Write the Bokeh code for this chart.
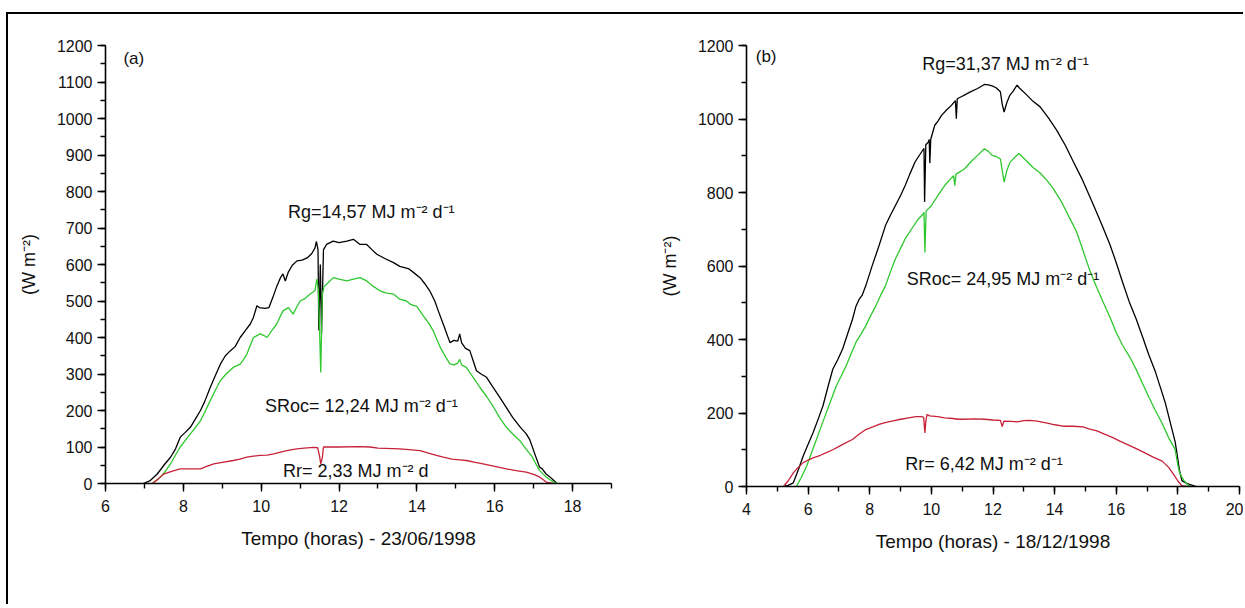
from bokeh.plotting import figure
from bokeh.models import SingleIntervalTicker, Label, Range1d
from bokeh.layouts import row
from bokeh.embed import file_html
from bokeh.resources import INLINE

FONT = "Liberation Sans"

# ---------------- Panel (a) : 23/06/1998 ----------------
a_rg_h = [6.97, 7.15, 7.33, 7.5, 7.67, 7.8, 7.92, 8.05, 8.18, 8.3, 8.44, 8.55, 8.69, 8.82, 8.95, 9.08, 9.21, 9.33,
          9.46, 9.6, 9.72, 9.8, 9.89, 9.95, 10.1, 10.2, 10.3, 10.4, 10.5, 10.56, 10.62, 10.7, 10.8, 10.92, 11.05,
          11.18, 11.3, 11.38, 11.42, 11.46, 11.48, 11.52, 11.55, 11.6, 11.68, 11.85, 12.0, 12.2, 12.37, 12.54,
          12.71, 12.85, 12.97, 13.2, 13.4, 13.56, 13.8, 13.95, 14.08, 14.2, 14.33, 14.46, 14.55, 14.7, 14.85,
          14.95, 15.05, 15.1, 15.15, 15.25, 15.36, 15.45, 15.53, 15.65, 15.79, 15.95, 16.13, 16.3, 16.46, 16.65,
          16.81, 16.9, 16.97, 17.05, 17.15, 17.22, 17.32, 17.45, 17.6]
a_rg_v = [0, 8, 26, 50, 72, 95, 127, 140, 154, 175, 200, 225, 263, 295, 327, 350, 364, 375,
          400, 420, 437, 455, 487, 482, 480, 482, 510, 540, 565, 574, 555, 580, 598, 610, 612,
          618, 630, 645, 663, 640, 420, 600, 410, 640, 655, 664, 660, 664, 669, 655,
          655, 640, 628, 615, 605, 595, 588, 575, 564, 548, 528, 500, 473, 430, 386,
          392, 390, 410, 385, 370, 364, 335, 309, 300, 291, 265, 236, 208, 181, 155,
          136, 120, 99, 75, 45, 40, 26, 15, 0]

a_sr_h = [7.2, 7.3, 7.41, 7.55, 7.67, 7.8, 7.92, 8.05, 8.18, 8.3, 8.44, 8.55, 8.69, 8.82, 8.95, 9.1, 9.28, 9.46,
          9.55, 9.63, 9.72, 9.8, 9.97, 10.08, 10.15, 10.28, 10.4, 10.5, 10.56, 10.7, 10.82, 10.92, 11.0, 11.1,
          11.26, 11.38, 11.43, 11.47, 11.53, 11.57, 11.62, 11.68, 11.85, 12.0, 12.2, 12.37, 12.54, 12.71, 12.88,
          13.05, 13.2, 13.4, 13.56, 13.73, 13.85, 14.0, 14.16, 14.3, 14.42, 14.6, 14.75, 14.85, 14.95, 15.05,
          15.1, 15.15, 15.27, 15.45, 15.62, 15.8, 15.97, 16.13, 16.3, 16.47, 16.64, 16.8, 16.97, 17.05, 17.15,
          17.25, 17.32, 17.45, 17.6]
a_sr_v = [0, 8, 17, 35, 54, 78, 100, 118, 136, 152, 172, 195, 227, 255, 282, 300, 318, 327,
          340, 354, 378, 400, 410, 405, 400, 420, 437, 460, 473, 482, 464, 485, 500, 505,
          519, 528, 560, 530, 304, 520, 540, 546, 564, 560, 555, 560, 564, 555, 540,
          528, 522, 519, 505, 500, 490, 485, 460, 440, 418, 373, 345, 328, 325, 330,
          340, 325, 318, 290, 263, 237, 209, 180, 154, 135, 118, 95, 72, 55, 36,
          25, 18, 8, 0]

a_rr_h = [7.2, 7.35, 7.49, 7.7, 7.92, 8.2, 8.44, 8.6, 8.78, 9.0, 9.28, 9.45, 9.63, 9.8, 9.97, 10.15, 10.32, 10.5,
          10.66, 10.8, 10.92, 11.1, 11.35, 11.45, 11.5, 11.53, 11.57, 11.6, 11.68, 12.0, 12.5, 12.8, 13.0, 13.56,
          13.8, 14.08, 14.3, 14.5, 14.68, 14.9, 15.1, 15.27, 15.5, 15.7, 16.0, 16.3, 16.55, 16.81, 17.0, 17.15,
          17.25, 17.32, 17.5]
a_rr_v = [0, 12, 26, 33, 40, 40, 40, 47, 54, 58, 63, 67, 72, 75, 77, 78, 81, 86,
          90, 93, 95, 97, 99, 98, 75, 54, 70, 100, 100, 100, 101, 100, 97, 95,
          93, 90, 83, 77, 72, 67, 65, 63, 58, 54, 47, 40, 35, 31, 25, 18,
          10, 4, 0]

# ---------------- Panel (b) : 18/12/1998 ----------------
b_rg_h = [5.2, 5.35, 5.52, 5.68, 5.84, 6.0, 6.16, 6.32, 6.48, 6.64, 6.8, 6.96, 7.12, 7.28, 7.44, 7.55, 7.66, 7.75,
          7.87, 8.08, 8.3, 8.51, 8.67, 8.83, 9.0, 9.15, 9.3, 9.47, 9.6, 9.72, 9.76, 9.78, 9.82, 9.9, 9.93, 9.95,
          9.98, 10.11, 10.22, 10.33, 10.5, 10.65, 10.78, 10.81, 10.84, 11.0, 11.07, 11.25, 11.5, 11.72, 11.85,
          11.97, 12.1, 12.24, 12.3, 12.36, 12.45, 12.55, 12.65, 12.78, 12.85, 13.1, 13.3, 13.53, 13.8, 14.07,
          14.35, 14.6, 14.9, 15.14, 15.35, 15.57, 15.8, 16.0, 16.2, 16.42, 16.65, 16.85, 17.05, 17.27, 17.45,
          17.59, 17.75, 17.91, 17.97, 18.05, 18.13, 18.3, 18.45, 18.6]
b_rg_v = [0, 3, 10, 45, 83, 115, 146, 182, 219, 270, 319, 345, 374, 415, 455, 490, 510, 520,
          546, 601, 655, 710, 738, 764, 792, 819, 850, 883, 900, 915, 920, 774, 930, 937, 944, 880,
          945, 983, 995, 1010, 1025, 1037, 1050, 1001, 1055, 1062, 1065, 1073, 1083, 1094, 1093,
          1090, 1085, 1074, 1040, 1019, 1045, 1065, 1075, 1092, 1085, 1065, 1048, 1033, 1003, 969,
          928, 885, 835, 789, 748, 705, 657, 609, 557, 503, 455, 408, 360, 312, 265,
          228, 175, 122, 90, 45, 16, 8, 4, 0]

b_sr_h = [5.62, 5.78, 5.95, 6.11, 6.27, 6.43, 6.59, 6.75, 6.91, 7.07, 7.23, 7.39, 7.55, 7.71, 7.87, 8.03, 8.19,
          8.35, 8.51, 8.67, 8.83, 9.0, 9.15, 9.35, 9.58, 9.72, 9.76, 9.79, 9.83, 10.0, 10.2, 10.43, 10.6, 10.72,
          10.76, 10.8, 11.07, 11.3, 11.5, 11.72, 11.85, 11.97, 12.1, 12.24, 12.3, 12.36, 12.45, 12.55, 12.7,
          12.84, 13.1, 13.3, 13.53, 13.75, 13.96, 14.2, 14.39, 14.55, 14.71, 14.93, 15.14, 15.35, 15.57, 15.8,
          16.0, 16.2, 16.42, 16.65, 16.85, 17.05, 17.27, 17.5, 17.7, 17.91, 18.0, 18.05, 18.1, 18.2, 18.3, 18.4]
b_sr_v = [0, 25, 55, 92, 128, 165, 201, 237, 273, 300, 328, 360, 392, 414, 437, 465, 490,
          520, 546, 584, 619, 648, 674, 700, 728, 740, 746, 637, 750, 764, 790, 819, 835, 846,
          819, 850, 864, 885, 901, 919, 912, 901, 898, 891, 860, 828, 860, 882, 895,
          906, 885, 868, 853, 833, 810, 778, 747, 720, 694, 640, 588, 545, 503, 460,
          419, 385, 355, 318, 281, 245, 207, 170, 133, 101, 58, 40, 30, 16, 6, 0]

b_rr_h = [5.2, 5.35, 5.52, 5.68, 5.84, 6.0, 6.16, 6.4, 6.59, 6.8, 7.02, 7.2, 7.44, 7.65, 7.87, 8.1, 8.3, 8.5,
          8.72, 9.0, 9.26, 9.5, 9.68, 9.75, 9.79, 9.82, 9.86, 9.95, 10.2, 10.43, 10.7, 10.86, 11.07, 11.4, 11.72,
          12.0, 12.24, 12.3, 12.35, 12.6, 12.78, 13.0, 13.2, 13.43, 13.8, 14.0, 14.28, 14.6, 14.92, 15.14,
          15.35, 15.6, 15.89, 16.15, 16.42, 16.7, 16.96, 17.2, 17.49, 17.7, 17.91, 18.0, 18.13, 18.3]
b_rr_v = [0, 15, 37, 52, 65, 72, 78, 85, 92, 100, 110, 118, 128, 142, 155, 162, 169, 174,
          178, 183, 187, 190, 190, 188, 146, 178, 196, 192, 190, 187, 185, 183, 183, 184, 183,
          181, 180, 163, 178, 177, 176, 179, 180, 178, 172, 168, 164, 164, 162, 156,
          152, 143, 133, 122, 112, 101, 90, 80, 69, 52, 27, 15, 2, 0]

BLACK = "#000000"
GREEN = "#2ec82e"
RED = "#c8213a"
Y_TITLE = "(W m\u207b\u00b2)"


def make_panel(width, height, left, right, top, bottom, fw, fh, xr, yr, yint, title):
    p = figure(width=width, height=height, frame_width=fw, frame_height=fh,
               x_range=Range1d(*xr), y_range=Range1d(*yr),
               output_backend="svg", toolbar_location=None,
               min_border_left=left, min_border_right=right,
               min_border_top=top, min_border_bottom=bottom)
    p.outline_line_color = None
    p.xgrid.visible = False
    p.ygrid.visible = False
    p.background_fill_color = "white"
    p.border_fill_color = "white"
    p.xaxis.ticker = SingleIntervalTicker(interval=2, num_minor_ticks=2)
    p.yaxis.ticker = SingleIntervalTicker(interval=yint, num_minor_ticks=2)
    for ax in (p.xaxis[0], p.yaxis[0]):
        ax.axis_line_width = 1.6
        ax.major_tick_line_width = 1.4
        ax.minor_tick_line_width = 1.4
        ax.major_tick_in = 0
        ax.major_tick_out = 8
        ax.minor_tick_in = 0
        ax.minor_tick_out = 5
        ax.major_label_text_font = FONT
        ax.major_label_text_font_size = "16px"
        ax.major_label_text_color = "#111111"
        ax.axis_label_text_font = FONT
        ax.axis_label_text_font_size = "19px"
        ax.axis_label_text_font_style = "normal"
        ax.axis_label_text_color = "#111111"
    p.yaxis.axis_label_text_font_size = "18px"
    p.xaxis.major_label_standoff = 8
    p.yaxis.major_label_standoff = 5
    p.xaxis.axis_label_standoff = 13
    p.yaxis.axis_label_standoff = 15
    p.xaxis.axis_label = title
    p.yaxis.axis_label = Y_TITLE
    return p


def add_label(p, x, y, text, size="18px"):
    p.add_layout(Label(x=x, y=y, text=text, text_font=FONT, text_font_size=size,
                       text_baseline="middle", text_align="left", text_color="#111111"))


pa = make_panel(612, 590, 97, 9, 31, 121, 506, 438, (6, 19), (0, 1200), 100,
                "Tempo (horas) - 23/06/1998")
pa.line(a_rg_h, a_rg_v, line_color=BLACK, line_width=1.3)
pa.line(a_sr_h, a_sr_v, line_color=GREEN, line_width=1.3)
pa.line(a_rr_h, a_rr_v, line_color=RED, line_width=1.3)
add_label(pa, 6.46, 1165, "(a)", "17px")
add_label(pa, 10.69, 744, "Rg=14,57 MJ m\u207b\u00b2 d\u207b\u00b9")
add_label(pa, 10.1, 213, "SRoc= 12,24 MJ m\u207b\u00b2 d\u207b\u00b9")
add_label(pa, 10.56, 35, "Rr= 2,33 MJ m\u207b\u00b2 d")

pb = make_panel(623, 590, 126, 4, 31, 118, 493, 441, (4, 20), (0, 1200), 200,
                "Tempo (horas) - 18/12/1998")
pb.line(b_rg_h, b_rg_v, line_color=BLACK, line_width=1.3)
pb.line(b_sr_h, b_sr_v, line_color=GREEN, line_width=1.3)
pb.line(b_rr_h, b_rr_v, line_color=RED, line_width=1.3)
add_label(pb, 4.3, 1170, "(b)", "17px")
add_label(pb, 9.7, 1151, "Rg=31,37 MJ m\u207b\u00b2 d\u207b\u00b9")
add_label(pb, 9.2, 564, "SRoc= 24,95 MJ m\u207b\u00b2 d\u207b\u00b9")
add_label(pb, 9.15, 60, "Rr= 6,42 MJ m\u207b\u00b2 d\u207b\u00b9")

layout = row(pa, pb, styles={"border-top": "2px solid black", "border-left": "2px solid black",
                             "margin-top": "12px", "margin-left": "6px"})

open("out.html", "w").write(file_html(layout, INLINE))
